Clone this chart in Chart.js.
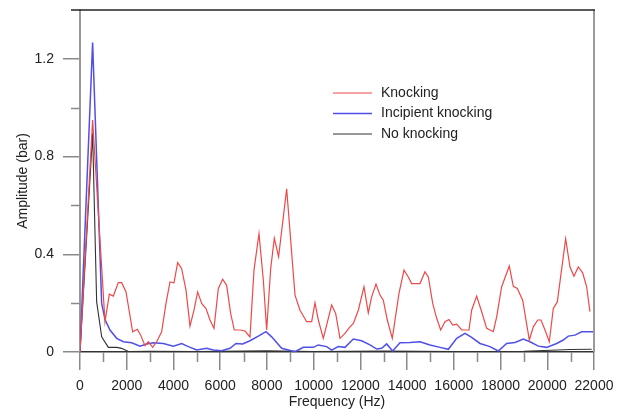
<!DOCTYPE html>
<html>
<head>
<meta charset="utf-8">
<script src="https://cdn.jsdelivr.net/npm/chart.js@4.4.1/dist/chart.umd.min.js"></script>
<style>
  body { margin: 0; background: #fff; }
  #chart { display: block; }
</style>
</head>
<body>
<canvas id="chart" width="626" height="412"></canvas>
<script>
// spectra (Hz, bar)
var knockFreq = [0, 540, 1070, 1255, 1427, 1640, 1783, 1970, 2254, 2454, 2597, 2782, 2925, 3110, 3281, 3495, 3681, 3852, 4023, 4180, 4351, 4537, 4708, 4879, 5036, 5207, 5393, 5564, 5735, 5921, 6106, 6277, 6448, 6605, 6848, 7062, 7276, 7447, 7661, 7847, 7990, 8161, 8318, 8500, 8845, 9202, 9416, 9702, 9916, 10058, 10200, 10414, 10771, 10943, 11128, 11342, 11556, 11699, 11912, 12155, 12340, 12483, 12669, 12840, 12982, 13153, 13367, 13653, 13867, 14052, 14195, 14552, 14766, 14909, 15096, 15267, 15438, 15622, 15793, 15952, 16123, 16337, 16649, 16764, 16978, 17192, 17406, 17690, 17834, 18048, 18375, 18546, 18717, 18947, 19232, 19403, 19590, 19731, 19902, 20087, 20258, 20430, 20787, 20972, 21143, 21327, 21514, 21685, 21827];
var knockAmp = [0, 0.95, 0.124, 0.237, 0.229, 0.284, 0.284, 0.246, 0.083, 0.093, 0.069, 0.026, 0.042, 0.019, 0.042, 0.083, 0.199, 0.287, 0.283, 0.366, 0.341, 0.253, 0.106, 0.171, 0.246, 0.199, 0.178, 0.131, 0.097, 0.26, 0.298, 0.273, 0.158, 0.09, 0.09, 0.086, 0.062, 0.335, 0.484, 0.294, 0.09, 0.341, 0.466, 0.39, 0.668, 0.233, 0.171, 0.124, 0.124, 0.201, 0.131, 0.056, 0.192, 0.158, 0.056, 0.076, 0.103, 0.117, 0.171, 0.267, 0.16, 0.226, 0.278, 0.233, 0.212, 0.131, 0.056, 0.24, 0.335, 0.307, 0.28, 0.28, 0.328, 0.307, 0.199, 0.138, 0.09, 0.124, 0.133, 0.11, 0.114, 0.09, 0.09, 0.171, 0.229, 0.165, 0.097, 0.083, 0.144, 0.267, 0.352, 0.269, 0.26, 0.212, 0.049, 0.103, 0.131, 0.131, 0.09, 0.042, 0.178, 0.205, 0.464, 0.348, 0.31, 0.348, 0.324, 0.267, 0.165];

var incipFreq = [0, 540, 928, 1070, 1284, 1570, 1855, 2211, 2568, 2853, 3139, 3567, 3995, 4351, 4637, 4993, 5421, 5707, 6063, 6420, 6677, 6962, 7276, 7633, 7961, 8204, 8632, 9202, 9559, 9987, 10200, 10558, 10771, 11057, 11342, 11699, 12055, 12412, 12697, 12911, 13125, 13381, 13696, 14124, 14552, 14980, 15408, 15764, 16123, 16478, 16764, 17120, 17548, 17904, 18262, 18617, 18974, 19260, 19616, 19973, 20401, 20687, 20900, 21186, 21471, 21970];
var incipAmp = [0, 1.267, 0.199, 0.133, 0.09, 0.056, 0.042, 0.038, 0.024, 0.033, 0.038, 0.035, 0.024, 0.035, 0.022, 0.008, 0.015, 0.008, 0.005, 0.015, 0.035, 0.033, 0.046, 0.065, 0.083, 0.062, 0.015, 0.001, 0.019, 0.019, 0.029, 0.022, 0.008, 0.022, 0.019, 0.053, 0.046, 0.029, 0.012, 0.015, 0.033, 0.004, 0.038, 0.039, 0.042, 0.029, 0.019, 0.011, 0.056, 0.076, 0.06, 0.035, 0.022, 0.004, 0.035, 0.039, 0.053, 0.042, 0.024, 0.019, 0.035, 0.049, 0.065, 0.069, 0.083, 0.083];

var noneFreq = [0, 540, 713, 928, 1213, 1570, 1783, 2068, 3000, 5000, 8000, 10000, 13000, 16000, 19000, 21000, 21900];
var noneAmp = [0, 0.895, 0.205, 0.062, 0.019, 0.019, 0.015, 0.002, 0.003, 0.002, 0.005, 0.002, 0.004, 0.002, 0.003, 0.01, 0.011];

var seriesNames = ['Knocking', 'Incipient knocking', 'No knocking'];
var xMinorTicks = [1000, 3000, 5000, 7000, 9000, 11000, 13000, 15000, 17000, 19000, 21000];
var yMinorTicks = [0.2, 0.6, 1.0];

function pts(xs, ys) {
  return xs.map(function (x, i) { return { x: x, y: ys[i] }; });
}

var font = { family: '"Liberation Sans", Arial, sans-serif', size: 14 };

// minor ticks, top/right frame and the legend inside the plot
var extras = {
  id: 'extras',
  afterDraw: function (chart) {
    var c = chart.ctx, a = chart.chartArea;
    var xs = chart.scales.x, ys = chart.scales.y;
    c.save();
    c.strokeStyle = '#8a8a8a';
    c.lineWidth = 1.5;
    xMinorTicks.forEach(function (v) {
      var px = Math.round(xs.getPixelForValue(v)) + 0.5;
      c.beginPath(); c.moveTo(px, a.bottom); c.lineTo(px, a.bottom + 10); c.stroke();
    });
    yMinorTicks.forEach(function (v) {
      var py = Math.round(ys.getPixelForValue(v)) + 0.5;
      c.beginPath(); c.moveTo(a.left - 9, py); c.lineTo(a.left, py); c.stroke();
    });
    // frame
    c.strokeStyle = '#999';
    c.lineWidth = 2;
    c.beginPath(); c.moveTo(a.right, a.top); c.lineTo(a.right, a.bottom); c.stroke();
    c.strokeStyle = '#222';
    c.lineWidth = 1.5;
    c.beginPath(); c.moveTo(a.left - 9, a.top); c.lineTo(a.right + 1, a.top); c.stroke();

    // legend
    c.font = '14px "Liberation Sans", Arial, sans-serif';
    c.textBaseline = 'middle';
    c.fillStyle = '#222';
    chart.data.datasets.forEach(function (ds, i) {
      var y = 93 + i * 20.5;
      c.strokeStyle = ds.borderColor;
      c.lineWidth = ds.borderWidth;
      c.beginPath(); c.moveTo(333, y); c.lineTo(372, y); c.stroke();
      c.fillText(ds.label, 381, y);
    });
    c.restore();
  }
};

var ctx = document.getElementById('chart').getContext('2d');
var chart = new Chart(ctx, {
  type: 'line',
  data: {
    datasets: [{
      label: seriesNames[0],
      data: pts(knockFreq, knockAmp),
      borderColor: 'rgb(238,72,72)',
      borderWidth: 1.2
    }, {
      label: seriesNames[1],
      data: pts(incipFreq, incipAmp),
      borderColor: 'rgb(80,80,232)',
      borderWidth: 1.5
    }, {
      label: seriesNames[2],
      data: pts(noneFreq, noneAmp),
      borderColor: '#333',
      borderWidth: 1.1
    }]
  },
  options: {
    responsive: false,
    animation: false,
    elements: { point: { radius: 0 }, line: { tension: 0 } },
    layout: { padding: { left: 0, right: 32, top: 10, bottom: 0 } },
    plugins: { legend: { display: false }, tooltip: { enabled: false } },
    scales: {
      x: {
        type: 'linear',
        min: 0,
        max: 22000,
        afterFit: function (s) { s.height = 60; s.paddingLeft = 0; s.paddingRight = 0; },
        border: { color: '#333', width: 1.5 },
        grid: { drawOnChartArea: false, tickLength: 18, color: '#8a8a8a', lineWidth: 1.5 },
        ticks: {
          stepSize: 2000,
          padding: 8,
          color: '#222',
          font: font,
          maxRotation: 0,
          autoSkip: false,
          callback: function (v) { return String(v); }
        },
        title: { display: true, text: 'Frequency (Hz)', color: '#222', font: font, padding: { top: 0, bottom: 1 } }
      },
      y: {
        min: 0,
        max: 1.4,
        afterFit: function (s) { s.width = 80; s.paddingTop = 0; s.paddingBottom = 0; },
        border: { color: '#999', width: 2 },
        grid: { drawOnChartArea: false, tickLength: 17, color: '#8a8a8a', lineWidth: 1.5 },
        ticks: { stepSize: 0.4, includeBounds: false, padding: 9, color: '#222', font: font },
        title: { display: true, text: 'Amplitude (bar)', color: '#222', font: font, padding: { top: 15, bottom: 0 } }
      }
    }
  },
  plugins: [extras]
});
</script>
</body>
</html>
